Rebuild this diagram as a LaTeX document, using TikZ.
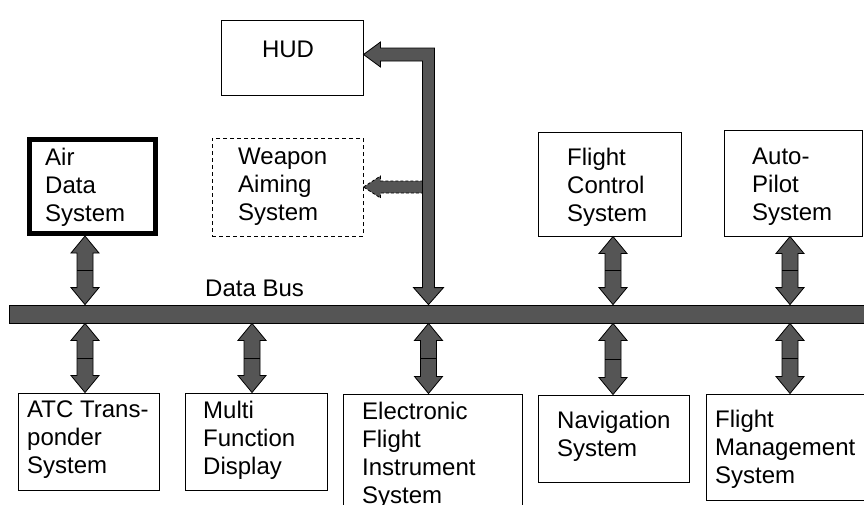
\documentclass[tikz,border=0pt]{standalone}
\usepackage{fontspec}
\setmainfont{Liberation Sans}
\usetikzlibrary{calc}
\definecolor{busgray}{RGB}{85,85,85}
\tikzset{
  box/.style={draw=black, line width=1pt, fill=white, inner sep=0pt},
  lbl/.style={font=\fontsize{24}{28}\selectfont, align=left, inner sep=0pt, anchor=north west},
  busarrow/.style={draw=black, line width=0.8pt, fill=busgray, line join=miter},
}
\newcommand\bidir[2]{%
  \path[busarrow] let \p1=#1, \p2=#2 in
    (\x1,\y1) -- (\x1+14pt,\y1-17pt) -- (\x1+8pt,\y1-17pt) -- (\x1+8pt,\y2+17pt) --
    (\x1+14pt,\y2+17pt) -- (\x1,\y2) -- (\x1-14pt,\y2+17pt) -- (\x1-8pt,\y2+17pt) --
    (\x1-8pt,\y1-17pt) -- (\x1-14pt,\y1-17pt) -- cycle;
  \draw[line width=0.8pt] let \p1=#1, \p2=#2 in
    (\x1-8pt,{(\y1+\y2)/2}) -- (\x1+8pt,{(\y1+\y2)/2});}
\begin{document}
\begin{tikzpicture}[x=1pt,y=-1pt]
\useasboundingbox (0,0) rectangle (864,504);
\clip (0,0) rectangle (864,504);
\fill[white] (0,0) rectangle (864,504);
% boxes
\node[box, minimum width=142pt, minimum height=75pt] (hud) at (292,57.5) {};
\node[box, dash pattern=on 4pt off 3pt, minimum width=151pt, minimum height=98pt] (wea) at (287.5,187) {};
\node[box, line width=5pt, minimum width=126pt, minimum height=94pt] (ads) at (92.5,186.5) {};
\node[box, minimum width=143pt, minimum height=104pt] (fcs) at (609.5,184) {};
\node[box, minimum width=138pt, minimum height=106pt] (ap) at (793,183) {};
\node[box, minimum width=141pt, minimum height=97pt] (atc) at (88.5,441.5) {};
\node[box, minimum width=142pt, minimum height=97pt] (mfd) at (256,441.5) {};
\node[box, minimum width=179pt, minimum height=136pt] (efis) at (432.5,462) {};
\node[box, minimum width=151pt, minimum height=87pt] (nav) at (613.5,438.5) {};
\node[box, minimum width=184pt, minimum height=106pt] (fms) at (798,447) {};
% bus
\node[busarrow, inner sep=0pt, minimum width=891pt, minimum height=18pt] (bus) at (454.5,314) {};
% arrow columns
\coordinate (xA) at (85,0);
\coordinate (xB) at (252,0);
\coordinate (xC) at (428.5,0);
\coordinate (xD) at (613,0);
\coordinate (xE) at (790,0);
\coordinate (hudtip) at ($(hud.east)+(0,-3)$);
% upper arrows
\bidir{(xA |- ads.south)}{(xA |- bus.north)}
\bidir{(xD |- fcs.south)}{(xD |- bus.north)}
\bidir{(xE |- ap.south)}{(xE |- bus.north)}
% lower arrows
\bidir{(xA |- bus.south)}{(xA |- atc.north)}
\bidir{(xB |- bus.south)}{(xB |- mfd.north)}
\bidir{(xC |- bus.south)}{(xC |- efis.north)}
\bidir{(xD |- bus.south)}{(xD |- nav.north)}
\bidir{(xE |- bus.south)}{(xE |- fms.north)}
% weapon aiming arrow (dashed)
\path[busarrow, dash pattern=on 3pt off 2pt] let \p1=(wea.east), \p2=(xC) in
  (\x1,\y1) -- (\x1+17pt,\y1+11pt) -- (\x1+17pt,\y1+6pt) -- (\x2,\y1+6pt) --
  (\x2,\y1-6pt) -- (\x1+17pt,\y1-6pt) -- (\x1+17pt,\y1-11pt) -- cycle;
% HUD arrow
\path[busarrow] let \p1=(hudtip), \p2=(xC |- bus.north) in
  (\x1,\y1) -- (\x1+17pt,\y1+12.5pt) -- (\x1+17pt,\y1+6.5pt) -- (\x2+6pt,\y1+6.5pt) --
  (\x2+6pt,\y2+17pt) -- (\x2+15pt,\y2+17pt) -- (\x2,\y2) -- (\x2-15pt,\y2+17pt) --
  (\x2-6pt,\y2+17pt) -- (\x2-6pt,\y1-6.5pt) -- (\x1+17pt,\y1-6.5pt) --
  (\x1+17pt,\y1-12.5pt) -- cycle;
% labels
\node[lbl, anchor=center] (hudt) at (288,49.5) {HUD};
\node[lbl] (weat) at (238,148) {Weapon\\Aiming\\System};
\node[lbl] (adst) at (45,148) {Air\\Data\\System};
\node[lbl] (fcst) at (567,148) {Flight\\Control\\System};
\node[lbl] (apt) at (752,148) {Auto-\\Pilot\\System};
\node[lbl] (atct) at (27,401) {ATC Trans-\\ponder\\System};
\node[lbl] (mfdt) at (203,401) {Multi\\Function\\Display};
\node[lbl] (efist) at (362,402) {Electronic\\Flight\\Instrument\\System};
\node[lbl] (navt) at (557,411) {Navigation\\System};
\node[lbl] (fmst) at (715,410) {Flight\\Management\\System};
\node[lbl] (buslbl) at (205,280) {Data Bus};
\end{tikzpicture}
\end{document}
